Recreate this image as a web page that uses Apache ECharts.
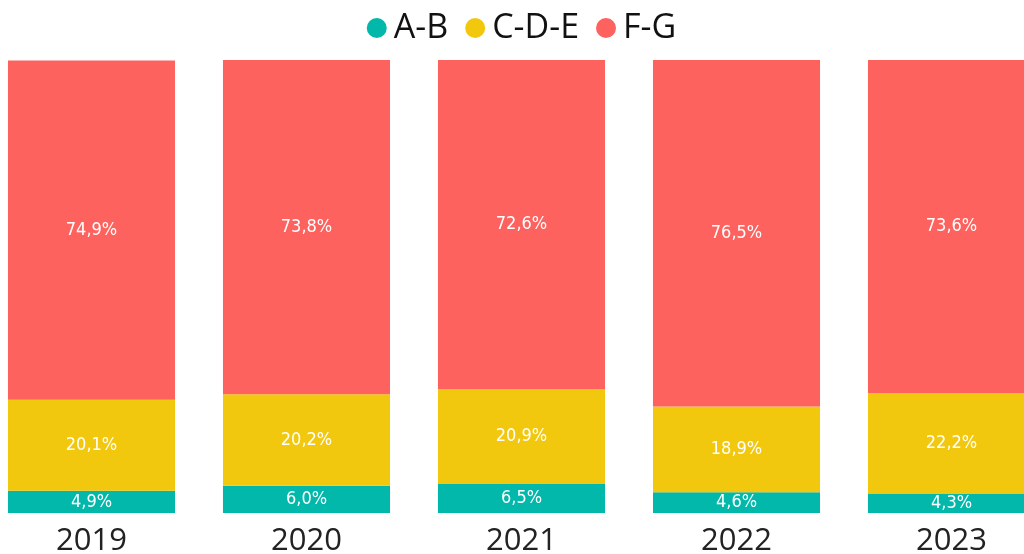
<!DOCTYPE html>
<html><head><meta charset="utf-8">
<script src="https://cdn.jsdelivr.net/npm/echarts@6/dist/echarts.min.js"></script>
<style>html,body{margin:0;padding:0;background:#fff;overflow:hidden;width:1024px;height:554px}
#c{position:absolute;left:-16px;top:0;width:1075px;height:554px}</style>
</head><body><div id="c"></div>
<script>
const categories = ['2019','2020','2021','2022','2023'];
const seriesNames = ['A-B','C-D-E','F-G'];
const valuesAB = [4.9, 6.0, 6.5, 4.6, 4.3];
const valuesCDE = [20.1, 20.2, 20.9, 18.9, 22.2];
const valuesFG = [74.9, 73.8, 72.6, 76.5, 73.6];
const colors = ['#01B8AA', '#F2C80F', '#FD625E'];

const fmt = p => p.value.toFixed(1).replace('.', ',') + '%';
const chart = echarts.init(document.getElementById('c'), null, {renderer:'canvas'});
const mk = (name, data, i) => ({
  name, type: 'bar', stack: 'total', data,
  barCategoryGap: '22.3%',
  itemStyle: {color: colors[i]},
  label: {show: true, position: 'inside', formatter: fmt, color: '#fff',
    fontFamily: 'DejaVu Sans Condensed', fontWeight: 'normal', fontSize: 18}
});
chart.setOption({
  animation: false,
  legend: {top: 6, left: 'center', icon: 'circle', itemWidth: 20, itemHeight: 20, itemGap: 17,
    textStyle: {fontFamily: 'Open Sans', fontSize: 34, color: '#111', padding: [0,0,0,2]},
    data: seriesNames},
  grid: {left: 0, right: 0, top: 60, bottom: 41, outerBoundsMode: 'none', containLabel: false},
  xAxis: {type: 'category', data: categories,
    axisLine: {show: false}, axisTick: {show: false},
    axisLabel: {fontFamily: 'Open Sans', fontSize: 31, color: '#222', margin: 13}},
  yAxis: {type: 'value', min: 0, max: 100, show: false},
  series: [mk(seriesNames[0], valuesAB, 0), mk(seriesNames[1], valuesCDE, 1), mk(seriesNames[2], valuesFG, 2)]
});
</script></body></html>
